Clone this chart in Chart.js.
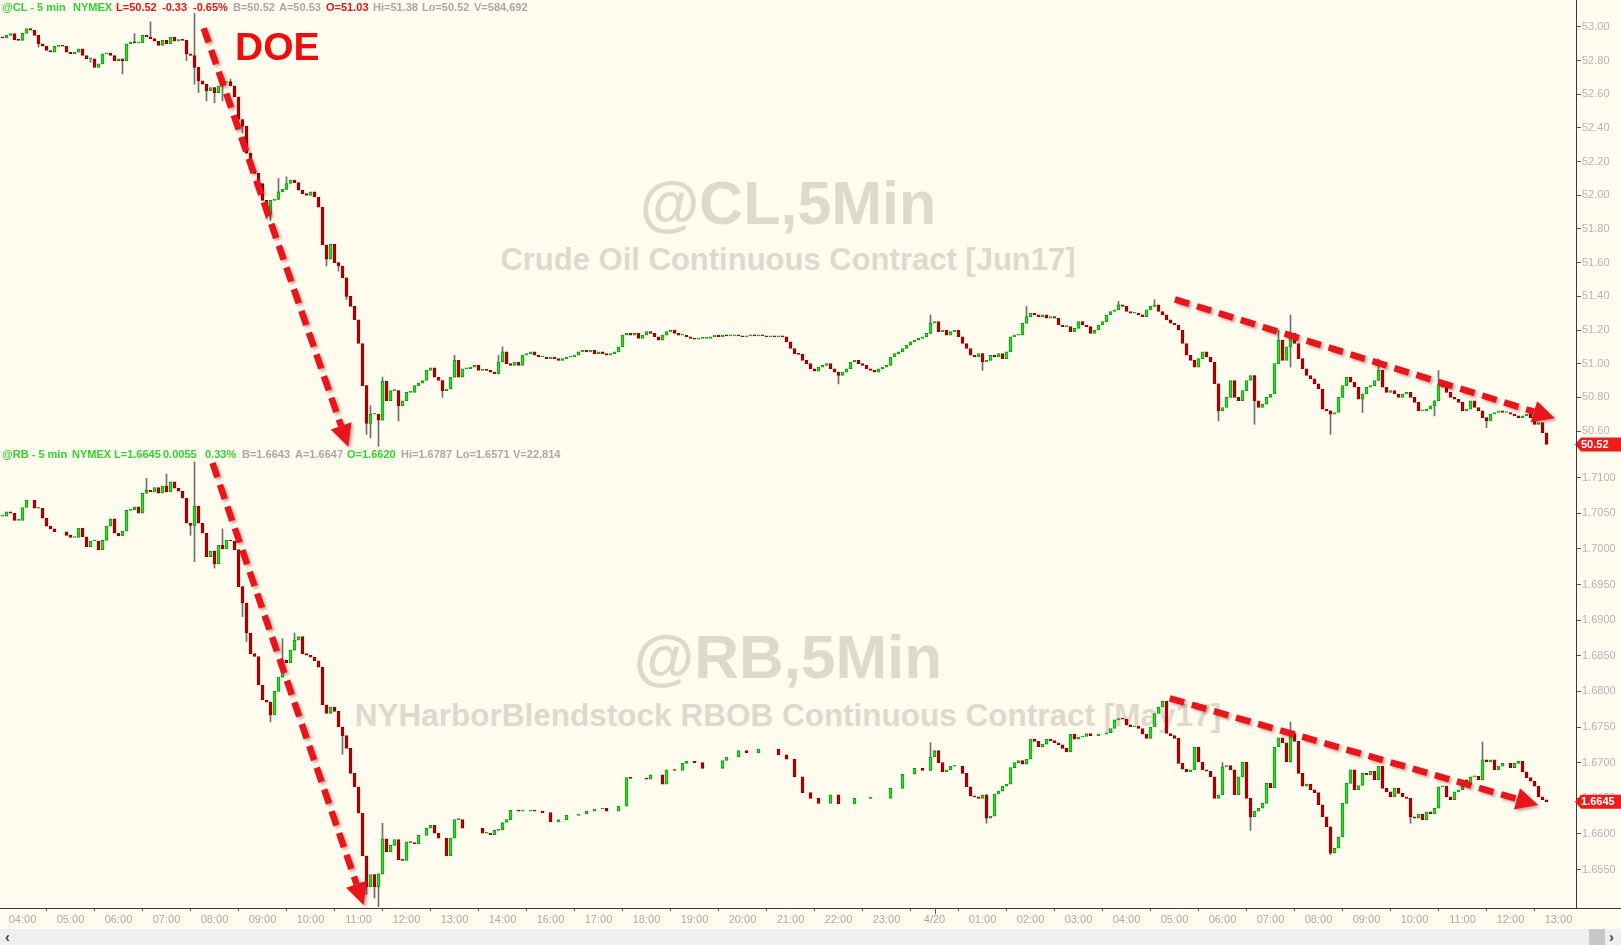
<!DOCTYPE html>
<html>
<head>
<meta charset="utf-8">
<script src="https://cdn.jsdelivr.net/npm/chart.js@4.4.1/dist/chart.umd.min.js"></script>
<style>
  body { margin: 0; width: 1621px; height: 945px; overflow: hidden; position: relative; background: #fffbef; font-family: "Liberation Sans", Arial, sans-serif; }
  .wm { position: absolute; left: 0; width: 1576px; text-align: center; color: #dfd9cd; font-weight: bold; white-space: nowrap; z-index: 0; line-height: 1; }
  canvas { position: absolute; left: 0; z-index: 1; }
  #cTop { top: 0; }
  #cBot { top: 440px; }
  .hdr { position: absolute; left: 0; width: 700px; height: 12px; font: bold 11px "Liberation Sans", Arial, sans-serif; line-height: 11px; z-index: 3; }
  .hdr span { position: absolute; top: 0; white-space: nowrap; }
  #doe { position: absolute; left: 235px; top: 27px; font: bold 39px "Liberation Sans", Arial, sans-serif; line-height: 39px; color: #ec0d0d; z-index: 3; }
  #sb { position: absolute; left: 0; top: 929px; width: 1621px; height: 16px; background: #efefef; z-index: 3; }
  #sb .l, #sb .r { position: absolute; top: 0; font: bold 15px "Liberation Sans", Arial, sans-serif; line-height: 15px; color: #444; }
  #sb .l { left: 5px; } #sb .r { left: 1609px; }
  #sb .th { position: absolute; left: 1589px; top: 0; width: 16px; height: 16px; background: #c8c8c8; }
</style>
</head>
<body>
<div class="wm" style="top:173px;font-size:61px">@CL,5Min</div>
<div class="wm" style="top:244px;font-size:31px">Crude Oil Continuous Contract [Jun17]</div>
<div class="wm" style="top:626px;font-size:62px">@RB,5Min</div>
<div class="wm" style="top:700px;font-size:31.5px">NYHarborBlendstock RBOB Continuous Contract [May17]</div>

<canvas id="cTop" width="1621" height="452"></canvas>
<canvas id="cBot" width="1621" height="489"></canvas>

<div class="hdr" id="hTop" style="top:2px"></div>
<div class="hdr" id="hBot" style="top:449px"></div>
<div id="doe">DOE</div>
<div id="sb"><span class="l">&#8249;</span><div class="th"></div><span class="r">&#8250;</span></div>

<script>
// 5-minute closes, one slot per bar, starting 03:35 (null = no trade)
const clClose = [
  52.935, 52.95, 52.96, 52.923, 52.92, 52.962, 52.99, 52.98, 52.95, 52.90,
  52.886, 52.86, 52.85, 52.884, 52.89, 52.885, 52.85, 52.84, 52.85, 52.87,
  52.83, 52.81, 52.81, 52.76, 52.78, 52.84, 52.845, 52.83, 52.80, 52.81,
  52.80, 52.90, 52.91, 52.905, 52.905, 52.95, 52.94, 52.93, 52.915, 52.89,
  52.92, 52.90, 52.94, 52.915, 52.925, 52.92, 52.84, 52.83, 52.76, 52.68,
  52.66, 52.62, 52.64, 52.61, 52.65, 52.67, 52.675, 52.65, 52.585, 52.45,
  52.41, 52.25, 52.15, 52.13, 52.07, 51.97, 51.89, 51.97, 51.975, 52.02,
  52.035, 52.07, 52.09, 52.075, 52.03, 52.01, 52.00, 52.02, 51.99, 51.93,
  51.705, 51.62, 51.71, 51.60, 51.58, 51.51, 51.40, 51.34, 51.26, 51.12,
  50.87, 50.646, 50.70, 50.70, 50.665, 50.895, 50.78, 50.84, 50.84, 50.75,
  50.78, 50.83, 50.83, 50.87, 50.885, 50.90, 50.96, 50.975, 50.92, 50.90,
  50.84, 50.85, 50.92, 51.02, 50.92, 50.97, 50.97, 50.98, 50.99, 50.96,
  50.965, 50.96, 50.95, 50.94, 51.01, 51.07, 51.00, 50.99, 51.01, 50.99,
  51.05, 51.06, 51.07, 51.05, 51.04, 51.04, 51.03, 51.04, 51.03, 51.02,
  51.03, 51.04, 51.04, 51.05, 51.07, 51.08, 51.07, 51.08, 51.06, 51.07,
  51.06, 51.05, 51.06, 51.07, 51.10, 51.17, 51.18, 51.17, 51.18, 51.15,
  51.17, 51.19, 51.18, 51.16, 51.14, 51.17, 51.19, 51.20, 51.18, 51.17,
  51.17, 51.16, 51.15, 51.145, 51.15, 51.15, 51.15, 51.16, 51.17, 51.16,
  51.17, 51.165, 51.165, 51.17, 51.165, 51.16, 51.165, 51.17, 51.165, 51.17,
  51.165, 51.16, 51.165, 51.16, 51.165, 51.16, 51.13, 51.09, 51.06, 51.055,
  51.02, 51.00, 50.97, 50.955, 50.98, 50.99, 51.00, 50.97, 50.95, 50.93,
  50.95, 50.97, 51.01, 51.02, 51.00, 50.99, 50.97, 50.96, 50.95, 50.97,
  50.98, 50.99, 51.04, 51.06, 51.07, 51.09, 51.11, 51.13, 51.14, 51.15,
  51.16, 51.18, 51.24, 51.25, 51.19, 51.20, 51.17, 51.19, 51.20, 51.16,
  51.12, 51.09, 51.05, 51.04, 51.06, 51.01, 51.02, 51.05, 51.04, 51.06,
  51.03, 51.07, 51.16, 51.17, 51.17, 51.24, 51.28, 51.30, 51.29, 51.28,
  51.29, 51.27, 51.28, 51.27, 51.23, 51.22, 51.22, 51.19, 51.21, 51.25,
  51.23, 51.22, 51.18, 51.20, 51.23, 51.25, 51.29, 51.31, 51.32, 51.35,
  51.34, 51.31, 51.30, 51.30, 51.29, 51.28, 51.32, 51.34, 51.35, 51.31,
  51.29, 51.26, 51.24, 51.23, 51.20, 51.12, 51.05, 51.02, 50.98, 51.03,
  51.07, 51.04, 51.01, 50.88, 50.72, 50.74, 50.80, 50.90, 50.80, 50.78,
  50.84, 50.90, 50.93, 50.78, 50.74, 50.76, 50.80, 50.82, 51.00, 51.14,
  51.02, 51.10, 51.18, 51.12, 51.03, 50.97, 50.93, 50.91, 50.88, 50.85,
  50.73, 50.72, 50.70, 50.71, 50.80, 50.87, 50.92, 50.89, 50.86, 50.79,
  50.82, 50.86, 50.87, 50.90, 50.96, 50.86, 50.83, 50.84, 50.82, 50.80,
  50.82, 50.83, 50.80, 50.77, 50.72, 50.72, 50.73, 50.75, 50.78, 50.87,
  50.86, 50.83, 50.80, 50.79, 50.77, 50.72, 50.73, 50.78, 50.74, 50.72,
  50.68, 50.66, 50.70, 50.71, 50.72, 50.71, 50.71, 50.70, 50.69, 50.68,
  50.69, 50.70, 50.68, 50.64, 50.65, 50.59, 50.52
];
const rbClose = [
  1.7046, 1.7052, 1.7050, 1.7040, 1.7040, 1.7058, 1.7068, null, 1.7057, 1.7057,
  1.7043, 1.7032, 1.7028, 1.7024, null, null, 1.7019, 1.7016, 1.7016, 1.7029,
  1.7017, 1.7003, 1.7011, 1.7011, 1.6999, 1.7012, 1.7032, 1.7042, 1.7022, 1.7018,
  1.7025, 1.7054, 1.7055, 1.7059, 1.7050, 1.7078, 1.7082, 1.7080, 1.7086, 1.7078,
  1.7088, 1.7080, 1.7094, 1.7085, 1.7081, 1.7071, 1.7036, 1.7033, 1.7060, 1.7036,
  1.7022, 1.6989, 1.6997, 1.6979, 1.7005, 1.7000, 1.7012, 1.7011, 1.6999, 1.6947,
  1.6924, 1.6882, 1.6853, 1.6849, 1.6809, 1.6788, 1.6785, 1.6767, 1.6800, 1.6820,
  1.6844, 1.6840, 1.6858, 1.6872, 1.6877, 1.6853, 1.6851, 1.6848, 1.6843, 1.6834,
  1.6781, 1.6769, 1.6778, 1.6772, 1.6750, 1.6738, 1.6720, 1.6685, 1.6666, 1.6629,
  1.6569, 1.6526, 1.6543, 1.6526, 1.6544, 1.6593, 1.6575, 1.6584, 1.6592, 1.6564,
  1.6563, 1.6589, 1.6588, 1.6586, 1.6598, null, 1.6608, 1.6612, 1.6601, 1.6594,
  null, 1.6569, 1.6594, 1.6620, 1.6620, 1.6608, null, null, null, null,
  1.6601, 1.6601, 1.6599, 1.6605, 1.6606, 1.6616, 1.6620, 1.6633, null, 1.6632,
  1.6632, null, 1.6633, 1.6632, null, 1.6630, null, 1.6617, null, 1.6620,
  null, 1.6626, null, null, 1.6628, null, 1.6632, null, 1.6635, null,
  1.6636, 1.6632, null, null, 1.6639, null, 1.6679, 1.6678, null, null,
  null, 1.6677, 1.6683, null, null, 1.6670, 1.6690, null, 1.6689, null,
  1.6699, 1.6702, null, 1.6700, null, 1.6692, null, null, null, null,
  1.6703, 1.6708, null, null, 1.6717, null, 1.6714, null, null, 1.6719,
  null, null, null, null, 1.6711, null, 1.6705, null, 1.6680, null,
  1.6658, null, 1.6650, null, 1.6643, null, null, 1.6655, null, 1.6642,
  null, null, null, 1.6650, null, null, null, 1.6650, null, null,
  null, null, 1.6664, null, null, 1.6684, null, null, 1.6692, null,
  1.6689, null, 1.6708, 1.6717, 1.6700, 1.6687, 1.6690, 1.6695, 1.6695, null,
  1.6685, 1.6666, 1.6653, 1.6652, 1.6650, 1.6655, 1.6622, 1.6625, 1.6656, 1.6660,
  1.6667, 1.6670, 1.6693, 1.6700, 1.6703, 1.6698, 1.6705, 1.6733, 1.6730, 1.6722,
  1.6726, 1.6733, 1.6731, 1.6728, 1.6725, 1.6720, 1.6715, 1.6740, 1.6733, 1.6736,
  1.6737, 1.6741, 1.6738, null, 1.6740, null, 1.6742, 1.6748, 1.6760, 1.6762,
  1.6761, 1.6753, 1.6750, 1.6751, 1.6748, 1.6740, 1.6734, 1.6750, 1.6769, 1.6778,
  1.6786, 1.6741, 1.6738, 1.6734, 1.6699, 1.6691, 1.6687, 1.6690, 1.6722, 1.6701,
  1.6690, 1.6688, 1.6680, 1.6650, 1.6655, 1.6694, 1.6696, 1.6690, 1.6655, 1.6680,
  1.6701, 1.6650, 1.6624, 1.6632, 1.6636, 1.6643, 1.6671, 1.6665, 1.6722, 1.6735,
  1.6728, 1.6701, 1.6741, 1.6730, 1.6685, 1.6667, 1.6670, 1.6662, 1.6658, 1.6641,
  1.6624, 1.6610, 1.6573, 1.6580, 1.6596, 1.6643, 1.6671, 1.6690, 1.6662, 1.6668,
  1.6685, 1.6683, 1.6688, 1.6676, 1.6695, 1.6664, 1.6659, 1.6652, 1.6664, 1.6657,
  1.6652, 1.6650, 1.6624, 1.6622, 1.6628, 1.6620, 1.6631, 1.6628, 1.6636, 1.6666,
  1.6667, 1.6652, 1.6648, 1.6659, 1.6662, 1.6676, 1.6669, 1.6680, 1.6681, 1.6676,
  1.6704, 1.6701, 1.6704, 1.6690, 1.6695, 1.6699, null, 1.6693, 1.6699, 1.6702,
  1.6687, 1.6679, 1.6674, 1.6667, 1.6652, 1.6648, 1.6645
];
const clFirstOpen = 52.94;
const rbFirstOpen = 1.7046;

// visible wicks: [slot, low, high] (null = body edge)
const clWicks = [
  [9, 52.88, null], [22, 52.79, null], [30, 52.72, null], [33, null, 52.96], [37, null, 53.03],
  [46, 52.80, null], [48, 52.66, 53.08], [49, 52.61, null], [51, 52.56, null], [53, 52.55, null],
  [55, 52.56, 52.70], [57, null, 52.69], [60, 52.37, null], [66, 51.86, null], [67, 51.85, null],
  [69, null, 52.10], [71, null, 52.11], [81, 51.58, null], [84, 51.55, null], [86, 51.38, null],
  [91, 50.58, null], [92, 50.56, 50.75], [94, 50.51, null], [95, null, 50.92],
  [99, 50.66, null], [110, 50.80, null], [113, null, 51.05], [124, null, 51.05],
  [125, null, 51.10], [209, 50.88, null], [232, null, 51.29], [245, 50.96, null],
  [256, null, 51.34], [279, null, 51.37], [288, null, 51.38], [304, 50.66, null],
  [313, 50.64, null], [319, null, 51.20], [322, 50.98, 51.29], [332, 50.58, null],
  [340, 50.71, null], [344, null, 51.03], [358, 50.69, null], [359, null, 50.96],
  [371, 50.62, null]
];
const rbWicks = [
  [36, null, 1.7099], [41, null, 1.7105], [47, 1.7019, null], [48, 1.6982, 1.7122],
  [53, 1.6973, null], [55, null, 1.7028], [60, 1.6905, null], [61, 1.6870, null],
  [67, 1.6757, null], [70, null, 1.6874], [73, null, 1.6882], [85, 1.6712, null],
  [91, 1.6515, null], [93, 1.6510, null], [94, 1.6498, null], [95, null, 1.6615],
  [232, null, 1.6728], [246, 1.6615, null], [305, null, 1.6700], [312, 1.6605, null],
  [322, null, 1.6757], [332, 1.6571, null], [352, 1.6615, null], [370, null, 1.6729]
];

const clTicks = [50.6, 50.8, 51.0, 51.2, 51.4, 51.6, 51.8, 52.0, 52.2, 52.4, 52.6, 52.8, 53.0];
const rbTicks = [1.655, 1.66, 1.665, 1.67, 1.675, 1.68, 1.685, 1.69, 1.695, 1.70, 1.705, 1.71];
const hourLabels = ['04:00','05:00','06:00','07:00','08:00','09:00','10:00','11:00','12:00','13:00','14:00',
  '16:00','17:00','18:00','19:00','20:00','21:00','22:00','23:00','4/20','01:00','02:00','03:00',
  '04:00','05:00','06:00','07:00','08:00','09:00','10:00','11:00','12:00','13:00'];
const firstHourSlot = 5, slotsPerHour = 12, slotCount = 394;

// dashed arrows: [fromSlot, fromPrice, toSlot, toPrice]
const clArrows = [[50.3, 52.992, 86.45, 50.507], [293.1, 51.382, 388.1, 50.676]];
const rbArrows = [[52.5, 1.71205, 90.3, 1.65003], [291.8, 1.67903, 383.9, 1.66406]];

const clHeader = [[2,'@CL - 5 min','g'],[73,'NYMEX','g'],[116,'L=50.52','r'],[162,'-0.33','r'],[193,'-0.65%','r'],
  [233,'B=50.52','n'],[279,'A=50.53','n'],[326,'O=51.03','r'],[373,'Hi=51.38','n'],[422,'Lo=50.52','n'],[474,'V=584,692','n']];
const rbHeader = [[2,'@RB - 5 min','g'],[72,'NYMEX','g'],[114,'L=1.6645','g'],[163,'0.0055','g'],[205,'0.33%','g'],
  [242,'B=1.6643','n'],[295,'A=1.6647','n'],[347,'O=1.6620','g'],[401,'Hi=1.6787','n'],[456,'Lo=1.6571','n'],[513,'V=22,814','n']];

const GREEN = '#2fe02f', GREEN_EDGE = '#129212', RED = '#b80000', RED_EDGE = '#8c0000', WICK = '#707070';
const FONT = '"Liberation Sans", Arial, sans-serif';
const hdrColors = { g: '#2fd42f', r: '#e8141b', n: '#a8a8a8' };

function fillHeader(id, parts) {
  const el = document.getElementById(id);
  parts.forEach(p => {
    const s = document.createElement('span');
    s.style.left = p[0] + 'px';
    s.style.color = hdrColors[p[2]];
    s.textContent = p[1];
    el.appendChild(s);
  });
}
fillHeader('hTop', clHeader);
fillHeader('hBot', rbHeader);

const slotLabel = {};
hourLabels.forEach((l, k) => { slotLabel[firstHourSlot + k * slotsPerHour] = l; });
const dayStartSlot = firstHourSlot + hourLabels.indexOf('4/20') * slotsPerHour;

function candles(close, firstOpen, wicks) {
  const extra = {};
  wicks.forEach(w => { extra[w[0]] = w; });
  const bodies = [], sticks = [];
  let prev = firstOpen;
  close.forEach((c, i) => {
    if (c === null) return;
    const o = prev;
    prev = c;
    bodies.push({ x: i, y: [o, c] });
    const w = extra[i];
    if (w) sticks.push({ x: i, y: [w[1] ?? Math.min(o, c), w[2] ?? Math.max(o, c)] });
  });
  return { bodies, sticks };
}

function arrowPlugin(list) {
  return {
    id: 'arrows',
    afterDatasetsDraw(chart) {
      const { ctx, scales: { x, y } } = chart;
      list.forEach(a => {
        const x0 = x.getPixelForValue(a[0]), y0 = y.getPixelForValue(a[1]);
        const x1 = x.getPixelForValue(a[2]), y1 = y.getPixelForValue(a[3]);
        const ang = Math.atan2(y1 - y0, x1 - x0), head = 22, half = 11;
        const bx = x1 - head * Math.cos(ang), by = y1 - head * Math.sin(ang);
        ctx.save();
        ctx.shadowColor = 'rgba(80,0,0,0.35)';
        ctx.shadowOffsetX = 2; ctx.shadowOffsetY = 2; ctx.shadowBlur = 3;
        ctx.strokeStyle = '#e8151b'; ctx.fillStyle = '#e8151b';
        ctx.lineWidth = 6.5;
        ctx.setLineDash([15, 8]);
        ctx.beginPath(); ctx.moveTo(x0, y0); ctx.lineTo(bx, by); ctx.stroke();
        ctx.setLineDash([]);
        ctx.beginPath();
        ctx.moveTo(x1, y1);
        ctx.lineTo(bx + half * Math.sin(ang), by - half * Math.cos(ang));
        ctx.lineTo(bx - half * Math.sin(ang), by + half * Math.cos(ang));
        ctx.closePath(); ctx.fill();
        ctx.restore();
      });
    }
  };
}

function tagPlugin(value, text, extendAxis) {
  return {
    id: 'lastTag',
    afterDraw(chart) {
      const { ctx, chartArea } = chart;
      const y = chart.scales.y.getPixelForValue(value);
      const x0 = chartArea.right, w = chart.width;
      ctx.save();
      if (extendAxis) {
        ctx.strokeStyle = '#3a3a3a'; ctx.lineWidth = 1;
        ctx.beginPath(); ctx.moveTo(x0, chartArea.bottom + 0.5); ctx.lineTo(w, chartArea.bottom + 0.5); ctx.stroke();
        // taller tick marking the day change
        const dx = Math.round(chart.scales.x.getPixelForValue(dayStartSlot)) + 0.5;
        ctx.strokeStyle = '#555';
        ctx.beginPath(); ctx.moveTo(dx, chartArea.bottom); ctx.lineTo(dx, chartArea.bottom + 6); ctx.stroke();
      }
      ctx.fillStyle = '#ee1c1c';
      ctx.beginPath();
      ctx.moveTo(x0 - 1, y);
      ctx.lineTo(x0 + 5, y - 7);
      ctx.lineTo(w, y - 7);
      ctx.lineTo(w, y + 7);
      ctx.lineTo(x0 + 5, y + 7);
      ctx.closePath(); ctx.fill();
      ctx.fillStyle = '#fff';
      ctx.font = 'bold 11px ' + FONT;
      ctx.textBaseline = 'middle';
      ctx.fillText(text, x0 + 5, y + 0.5);
      ctx.restore();
    }
  };
}

function makeChart(id, close, firstOpen, wicks, yMin, yMax, ticks, digits, arrows, showX) {
  const c = candles(close, firstOpen, wicks);
  const last = close[close.length - 1];
  const isUp = ctx => ctx.raw && ctx.raw.y[1] >= ctx.raw.y[0];
  return new Chart(document.getElementById(id), {
    type: 'bar',
    data: {
      datasets: [
        { data: c.sticks, backgroundColor: WICK, borderWidth: 0, barThickness: 1, grouped: false, order: 2 },
        { data: c.bodies, grouped: false, order: 1, barThickness: 3, minBarLength: 1,
          borderWidth: 1, borderSkipped: false,
          backgroundColor: ctx => isUp(ctx) ? GREEN : RED,
          borderColor: ctx => isUp(ctx) ? GREEN_EDGE : RED_EDGE }
      ]
    },
    options: {
      responsive: false,
      animation: false,
      devicePixelRatio: 1,
      layout: { padding: 0 },
      plugins: { legend: { display: false }, tooltip: { enabled: false } },
      scales: {
        x: {
          type: 'linear', display: showX, offset: false,
          min: -0.625, max: slotCount - 0.625,
          afterBuildTicks: s => { s.ticks = Object.keys(slotLabel).map(v => ({ value: +v })); },
          afterFit: s => { s.height = showX ? 21 : 0; s.paddingLeft = 0; s.paddingRight = 0; },
          border: { display: true, color: '#3a3a3a', width: 1 },
          grid: { display: true, drawOnChartArea: false, drawTicks: true, tickLength: 3, color: '#555' },
          ticks: { color: '#aaaaaa', font: { family: FONT, size: 11 }, padding: 2, maxRotation: 0, autoSkip: false,
            callback: v => slotLabel[v] ?? null }
        },
        y: {
          position: 'right', min: yMin, max: yMax,
          afterBuildTicks: s => { s.ticks = ticks.map(v => ({ value: v })); },
          afterFit: s => { s.width = 45; s.paddingTop = 0; s.paddingBottom = 0; },
          border: { display: true, color: '#3a3a3a', width: 1 },
          grid: { display: true, drawOnChartArea: false, drawTicks: true, tickLength: 5, color: '#555' },
          ticks: { color: '#b4b4b4', font: { family: FONT, size: 11 }, padding: 1,
            callback: v => v.toFixed(digits) }
        }
      }
    },
    plugins: [arrowPlugin(arrows), tagPlugin(last, last.toFixed(digits), showX)]
  });
}

makeChart('cTop', clClose, clFirstOpen, clWicks, 50.47565, 53.15974, clTicks, 2, clArrows, false);
makeChart('cBot', rbClose, rbFirstOpen, rbWicks, 1.649609, 1.715276, rbTicks, 4, rbArrows, true);
</script>
</body>
</html>
